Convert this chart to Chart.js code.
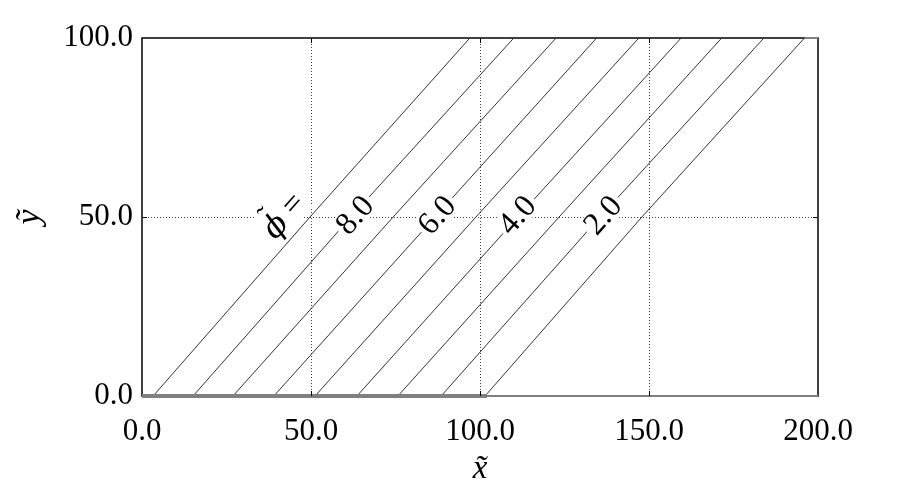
<!DOCTYPE html>
<html>
<head>
<meta charset="utf-8">
<script src="https://cdn.jsdelivr.net/npm/chart.js@4/dist/chart.umd.min.js"></script>
<style>
  html, body { margin: 0; background: #fff; }
  #wrap { width: 903px; height: 500px; }
</style>
</head>
<body>
<div id="wrap"><canvas id="myChart"></canvas></div>
<script>
// contour levels of phi, left to right
const levels = [9, 8, 7, 6, 5, 4, 3, 2, 1];
// x where each contour meets y = 0, y = 50, y = 100
const xAtBottom = [3.3, 15.1, 26.9, 39.0, 51.2, 63.6, 75.7, 88.5, 101.5];
const xAtMiddle = [49.7, 61.8, 74.3, 86.7, 98.8, 111.2, 123.4, 135.5, 147.9];
const xAtTop = [97.0, 110.0, 122.5, 134.5, 147.0, 159.5, 171.5, 184.0, 196.0];
const yLevels = [0, 50, 100];

// contour labels written on the plot (first one is the "phi =" prefix)
const labelText = ["=", "8.0", "6.0", "4.0", "2.0"];
const labelX = [41.7, 63.0, 87.3, 111.0, 136.4];
const labelY = [50.5, 50.5, 50.5, 50.5, 50.5];

// contour pieces lying on the plot edges
const edgeBottomX = [0, 102];
const edgeBottomRestX = [102, 200];
const edgeTopX = [196, 200];

const xTicks = [0, 50, 100, 150, 200];
const yTicks = [0, 50, 100];

const serif = "'Liberation Serif', 'DejaVu Serif', serif";

const contourSets = levels.map((lv, i) => ({
  label: "phi " + lv,
  data: yLevels.map((yy, k) => ({ x: [xAtBottom[i], xAtMiddle[i], xAtTop[i]][k], y: yy })),
  borderColor: "#333",
  borderWidth: 1,
  pointRadius: 0,
  tension: 0,
  fill: false,
}));

const edgeSets = [
  { data: edgeBottomX.map((x) => ({ x: x, y: 0 })), borderWidth: 4 },
  { data: edgeBottomRestX.map((x) => ({ x: x, y: 0 })), borderWidth: 2 },
  { data: edgeTopX.map((x) => ({ x: x, y: 100 })), borderWidth: 2 },
].map((d) => ({ ...d, label: "edge", borderColor: "#808080", pointRadius: 0, clip: false }));

// frame around the plot area, under the data
const framePlugin = {
  id: "frame",
  beforeDatasetsDraw(chart) {
    const { ctx, chartArea: a } = chart;
    ctx.save();
    ctx.strokeStyle = "#000";
    ctx.lineWidth = 1.5;
    ctx.strokeRect(a.left, a.top, a.right - a.left, a.bottom - a.top);
    ctx.restore();
  },
};

// inward tick marks on all four sides
const tickPlugin = {
  id: "inTicks",
  afterDraw(chart) {
    const { ctx, chartArea: a, scales } = chart;
    ctx.save();
    ctx.strokeStyle = "#000";
    ctx.lineWidth = 1;
    ctx.beginPath();
    xTicks.slice(1, -1).forEach((v) => {
      const px = Math.round(scales.x.getPixelForValue(v)) + 0.5;
      ctx.moveTo(px, a.bottom); ctx.lineTo(px, a.bottom - 5);
      ctx.moveTo(px, a.top); ctx.lineTo(px, a.top + 5);
    });
    yTicks.slice(1, -1).forEach((v) => {
      const py = Math.round(scales.y.getPixelForValue(v)) + 0.5;
      ctx.moveTo(a.left, py); ctx.lineTo(a.left + 5, py);
      ctx.moveTo(a.right, py); ctx.lineTo(a.right - 5, py);
    });
    ctx.stroke();
    ctx.restore();
  },
};

// rotated labels along the contours
const labelPlugin = {
  id: "contourLabels",
  afterDatasetsDraw(chart) {
    const { ctx, scales } = chart;
    const x = scales.x, y = scales.y;
    const ang = Math.atan2(
      y.getPixelForValue(100) - y.getPixelForValue(0),
      x.getPixelForValue(xAtTop[0]) - x.getPixelForValue(xAtBottom[0])
    );
    ctx.save();
    ctx.textBaseline = "middle";
    labelText.forEach((t, i) => {
      const px = x.getPixelForValue(labelX[i]);
      const py = y.getPixelForValue(labelY[i]);
      ctx.save();
      ctx.translate(px, py);
      ctx.rotate(ang);
      ctx.font = "32px " + serif;
      if (i === 0) {
        // phi with a tilde over it, then "="
        const phiFont = "italic 32px 'DejaVu Serif', serif";
        ctx.font = phiFont;
        const wp = ctx.measureText("\u03d5").width;
        ctx.font = "32px " + serif;
        const we = ctx.measureText(t).width;
        const gap = 8;
        const x0 = -(wp + gap + we) / 2;
        ctx.fillStyle = "#fff";
        ctx.fillRect(x0 - 2, -20, wp + gap + we + 4, 36);
        ctx.fillStyle = "#000";
        ctx.textAlign = "left";
        ctx.fillText(t, x0 + wp + gap, 1);
        ctx.font = phiFont;
        ctx.fillText("\u03d5", x0, 3);
        ctx.font = "28px " + serif;
        ctx.textAlign = "center";
        ctx.fillText("\u02dc", x0 + wp / 2 + 2, -11);
      } else {
        const w = ctx.measureText(t).width;
        ctx.fillStyle = "#fff";
        ctx.fillRect(-w / 2 - 3, -13, w + 6, 26);
        ctx.fillStyle = "#000";
        ctx.textAlign = "center";
        ctx.fillText(t, 0, 1);
      }
      ctx.restore();
    });
    ctx.restore();
  },
};

const hideEdges = (c) =>
  c.tick && (c.tick.value === 0 || c.tick.value === 200 || c.tick.value === 100 && c.scale.axis === "y")
    ? "rgba(0,0,0,0)" : "#444";

new Chart(document.getElementById("myChart"), {
  type: "line",
  data: { datasets: [...edgeSets, ...contourSets] },
  options: {
    responsive: true,
    maintainAspectRatio: false,
    animation: false,
    layout: { padding: { top: 38, right: 85, left: 0, bottom: 0 } },
    plugins: { legend: { display: false }, tooltip: { enabled: false } },
    scales: {
      x: {
        type: "linear",
        min: 0,
        max: 200,
        afterFit: (s) => { s.height = 104; },
        ticks: {
          stepSize: 50,
          padding: 17,
          maxRotation: 0,
          color: "#000",
          font: { family: serif, size: 31 },
          callback: (v) => v.toFixed(1),
        },
        grid: { color: hideEdges, lineWidth: 1, drawTicks: false },
        border: { display: false, dash: [1, 2] },
        title: {
          display: true,
          text: "x\u0303",
          color: "#000",
          font: { family: serif, size: 33, style: "italic" },
          padding: { top: 0, bottom: 11 },
        },
      },
      y: {
        min: 0,
        max: 100,
        afterFit: (s) => { s.width = 142; },
        ticks: {
          stepSize: 50,
          padding: 9,
          color: "#000",
          font: { family: serif, size: 31 },
          callback: (v) => v.toFixed(1),
        },
        grid: { color: hideEdges, lineWidth: 1, drawTicks: false },
        border: { display: false, dash: [1, 2] },
        title: {
          display: true,
          text: "y\u0303",
          color: "#000",
          font: { family: serif, size: 34, style: "italic" },
          padding: { top: 10, bottom: 0 },
        },
      },
    },
  },
  plugins: [framePlugin, tickPlugin, labelPlugin],
});
</script>
</body>
</html>
